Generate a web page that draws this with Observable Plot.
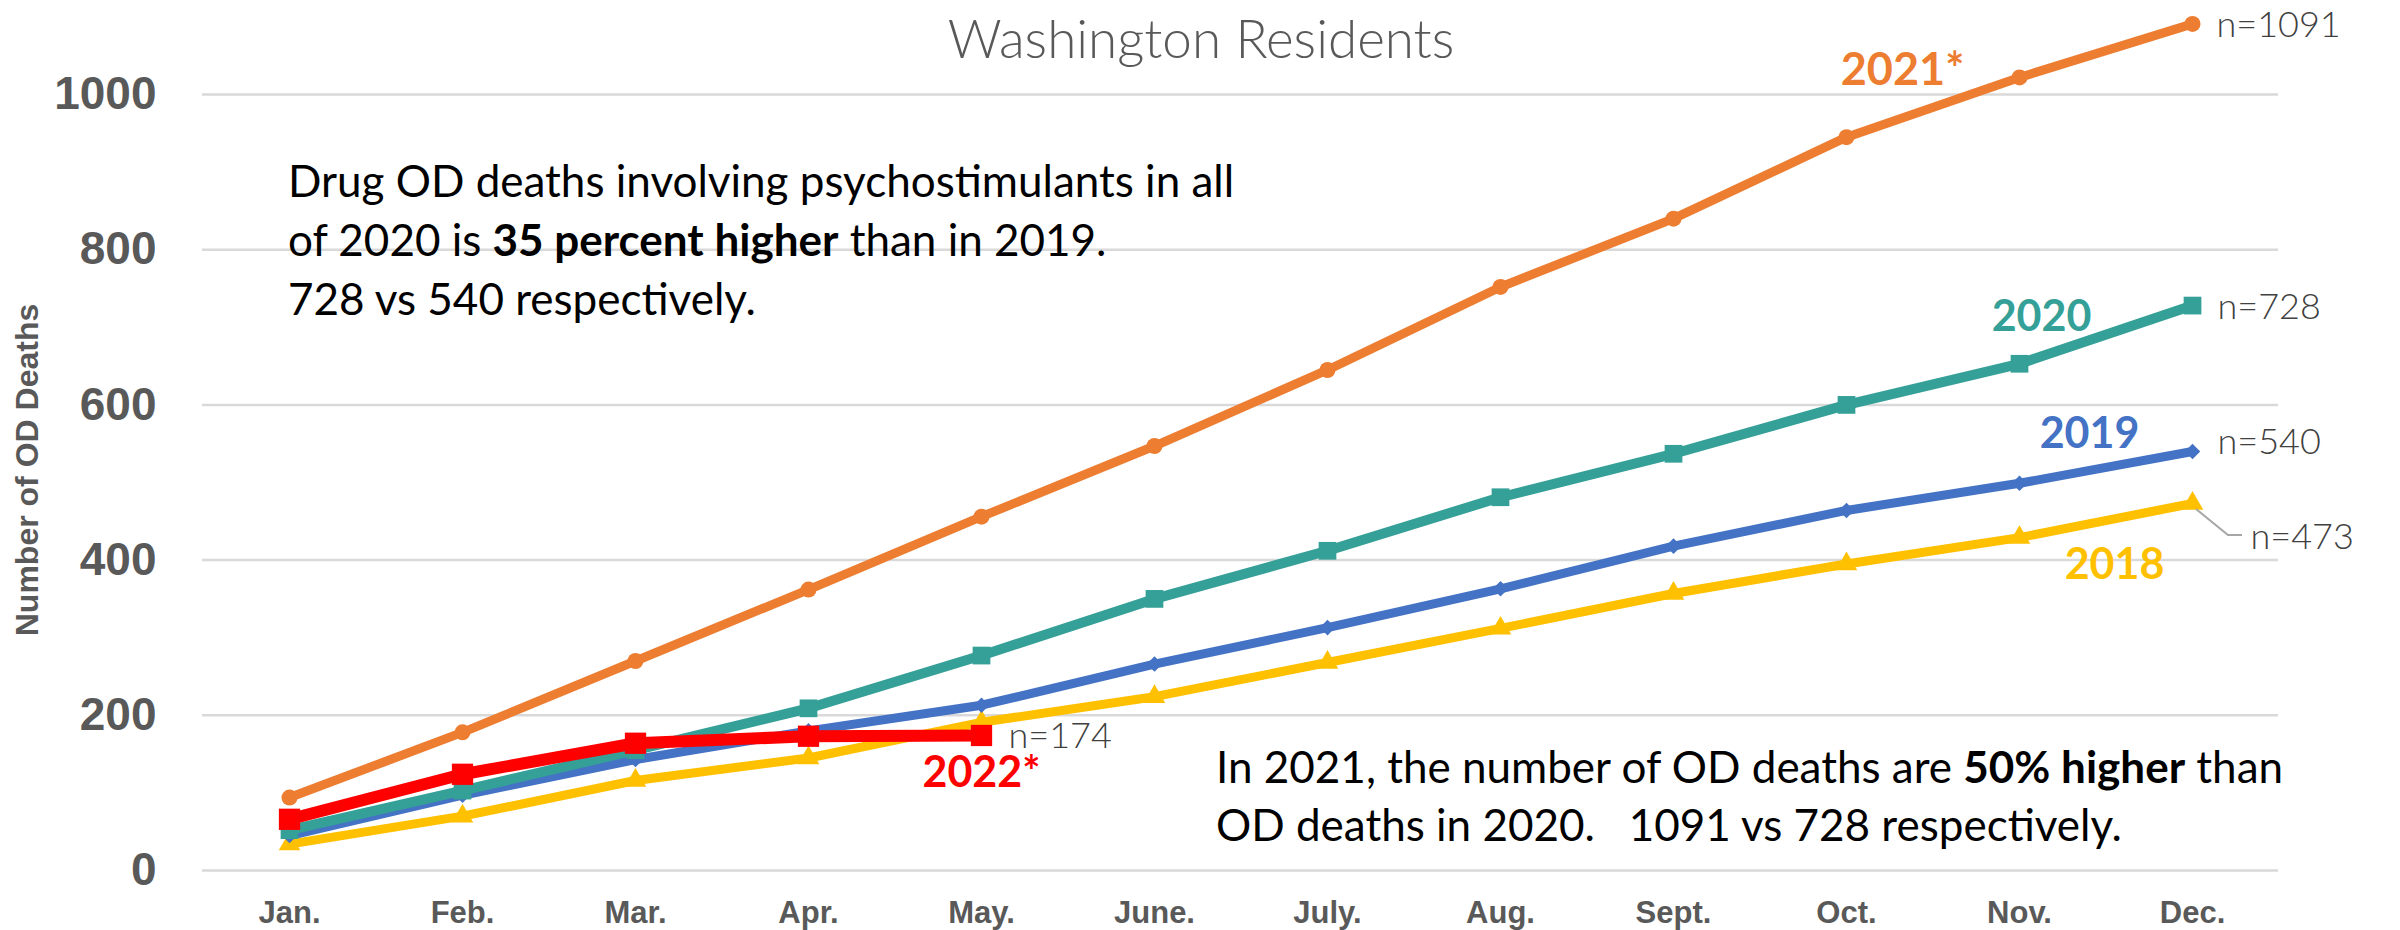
<!DOCTYPE html>
<html><head><meta charset="utf-8">
<script src="https://cdn.jsdelivr.net/npm/d3@7"></script>
<script src="https://cdn.jsdelivr.net/npm/@observablehq/plot@0.6"></script>
<style>
body{margin:0;background:#fff;}
#chart{width:2400px;height:930px;}
g[aria-label="y-axis tick label"] text{font:bold 46px "Liberation Sans",Arial,sans-serif;fill:#595959;}
g[aria-label="x-axis tick label"] text{font:bold 31px "Liberation Sans",Arial,sans-serif;fill:#595959;}
</style></head><body><div id="chart"></div>
<script>
const months = ["Jan.","Feb.","Mar.","Apr.","May.","June.","July.","Aug.","Sept.","Oct.","Nov.","Dec."];
const years = ["2018","2019","2020","2021*","2022*"];
const deaths2018 = [34, 70, 116, 145, 191, 224, 268, 312, 357, 395, 429, 473];
const deaths2019 = [45, 97, 143, 180, 213, 266, 313, 363, 418, 464, 499, 540];
const deaths2020 = [52, 103, 155, 209, 277, 350, 412, 481, 537, 600, 653, 728];
const deaths2021 = [94, 178, 270, 362, 456, 547, 645, 752, 840, 945, 1022, 1091];
const deaths2022 = [66, 124, 164, 173, 174];
const yTicks = [0, 200, 400, 600, 800, 1000];
const endLabels = ["n=473", "n=540", "n=728", "n=1091", "n=174"];
const titleText = "Washington Residents";
const yLabel = "Number of OD Deaths";

const seriesValues = [deaths2018, deaths2019, deaths2020, deaths2021, deaths2022];
const colors = ["#FFC000", "#4472C4", "#35A097", "#ED7D31", "#FF0000"];
const symbols = ["triangle", "diamond2", "square", "circle", "square"];
const widths = [9, 9, 10, 9, 12];
const radii = [8, 7, 10, 8, 12];

const rows = years.flatMap((yr, i) => seriesValues[i].map((v, j) => ({year: yr, month: months[j], value: v})));
const lastRows = years.map((yr, i) => ({year: yr, month: months[seriesValues[i].length - 1], value: seriesValues[i][seriesValues[i].length - 1], label: endLabels[i]}));

// series name label anchors: [year index, month index, dx, dy]
const nameAnchors = [[0, 10, 95, 28], [1, 10, 70, -49], [2, 10, 22, -47], [3, 9, 56, -67], [4, 4, 0, 38]];
const nameSizes = [43, 43, 43, 45, 43];
// end label offsets: [dx, dy]
const endOffsets = [[58, 34], [25, -9], [25, 2], [24, 2], [27, 1]];

const marks = [
  Plot.ruleY(yTicks, {stroke: "#D9D9D9", strokeWidth: 2.5})
];
years.forEach((yr, i) => {
  const d = rows.filter(r => r.year === yr);
  marks.push(Plot.line(d, {x: "month", y: "value", stroke: colors[i], strokeWidth: widths[i]}));
  marks.push(Plot.dot(d, {x: "month", y: "value", symbol: () => symbols[i], fill: colors[i], r: radii[i], stroke: "none"}));
});
years.forEach((yr, i) => {
  const [yi, mi, dx, dy] = nameAnchors[i];
  marks.push(Plot.text([{month: months[mi], value: seriesValues[yi][mi], t: years[yi]}], {
    x: "month", y: "value", text: "t", dx, dy, fill: colors[yi],
    fontSize: nameSizes[i], fontWeight: "bold", fontFamily: "Lato, sans-serif", textAnchor: "middle"
  }));
  const [ex, ey] = endOffsets[i];
  marks.push(Plot.text([lastRows[i]], {
    x: "month", y: "value", text: "label", dx: ex, dy: ey, fill: "#404040",
    fontSize: 36, fontWeight: 300, fontFamily: "Lato, sans-serif", textAnchor: "start"
  }));
});

const chart = Plot.plot({
  width: 2400, height: 930,
  marginLeft: 202, marginRight: 122, marginTop: 94, marginBottom: 60,
  style: {background: "#fff", overflow: "visible"},
  x: {type: "point", domain: months, padding: 0.5, tickSize: 0, tickPadding: 30, label: null},
  y: {domain: [0, 1000], ticks: yTicks, tickSize: 0, tickPadding: 46, label: null, tickFormat: d => String(d)},
  marks
});
document.getElementById("chart").appendChild(chart);

const svg = d3.select(chart);
const xs = chart.scale("x"), ys = chart.scale("y");

// title
svg.append("text").attr("x", 1201).attr("y", 58).attr("text-anchor", "middle")
  .attr("font-family", "Lato, sans-serif").attr("font-weight", 300).attr("font-size", 53)
  .attr("fill", "#595959").text(titleText);

// y label
svg.append("text").attr("transform", "translate(38,470) rotate(-90)").attr("text-anchor", "middle")
  .attr("font-family", "'Liberation Sans', Arial, sans-serif").attr("font-weight", "bold").attr("font-size", 32)
  .attr("fill", "#595959").text(yLabel);

// leader line for 2018 end label
const dx0 = xs.apply("Dec."), dy0 = ys.apply(deaths2018[11]);
svg.append("path").attr("d", `M${dx0 + 4},${dy0 + 6}L${dx0 + 36},${dy0 + 32}H${dx0 + 50}`)
  .attr("fill", "none").attr("stroke", "#A6A6A6").attr("stroke-width", 2);

function block(x, y0, lh, lines) {
  const t = svg.append("text").attr("font-family", "Lato, sans-serif").attr("font-size", 44)
    .attr("fill", "#000").attr("text-anchor", "start");
  lines.forEach((segs, li) => {
    segs.forEach((s, si) => {
      const ts = t.append("tspan").text(s[0]).attr("font-weight", s[1] ? "bold" : "normal");
      if (si === 0) ts.attr("x", x).attr("y", y0 + li * lh);
    });
  });
}
block(288, 197, 59, [
  [["Drug OD deaths involving psychostimulants in all", 0]],
  [["of 2020 is ", 0], ["35 percent higher", 1], [" than in 2019.", 0]],
  [["728 vs 540 respectively.", 0]]
]);
block(1216, 783, 58, [
  [["In 2021, the number of OD deaths are ", 0], ["50% higher", 1], [" than", 0]],
  [["OD deaths in 2020.\u00a0\u00a0 1091 vs 728 respectively.", 0]]
]);
</script></body></html>
